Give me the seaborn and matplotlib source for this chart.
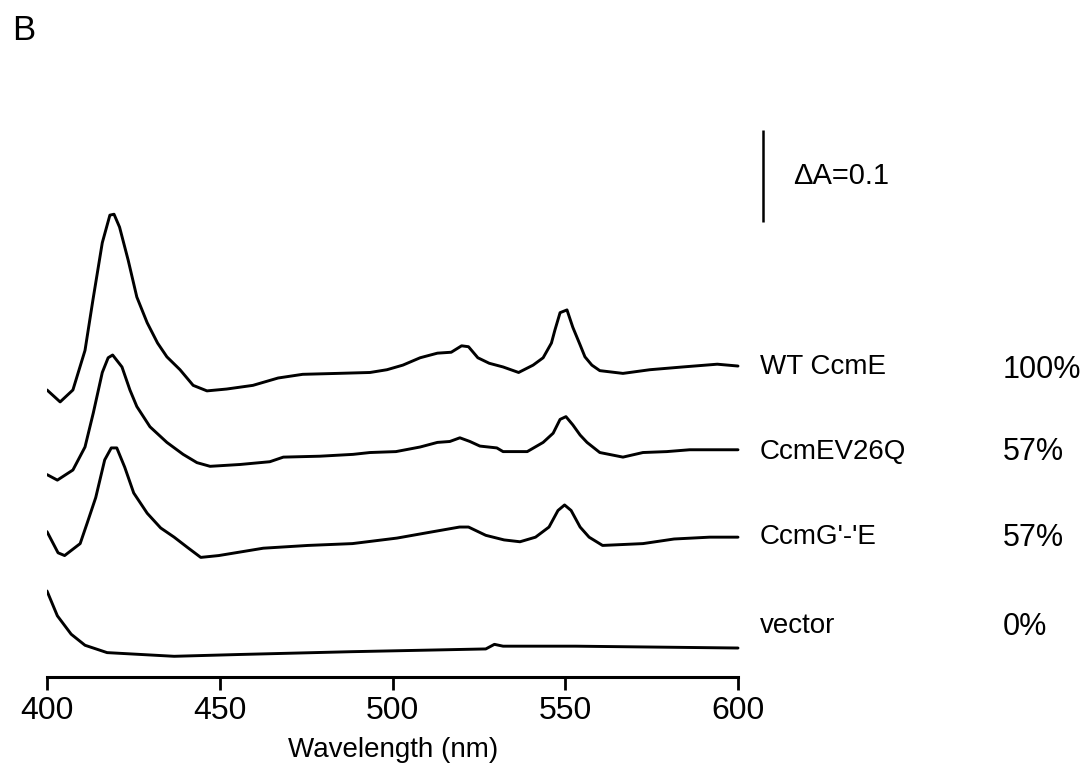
import matplotlib
matplotlib.use("Agg")
import matplotlib.pyplot as plt
import numpy as np
import pandas as pd
import seaborn as sns

# Difference spectra (absorbance relative to the 600 nm value of each trace)
wt_nm = [400, 403.8, 407.5, 411, 413.3, 416, 418.2, 419.4, 421, 423.5, 426, 429,
         432, 434.7, 438.5, 442.3, 446.3, 452, 459.6, 466.9, 474, 484, 493.5,
         498.4, 503, 508, 513, 517, 520, 522, 524.7, 528, 532, 536.5, 540.7,
         543.6, 546, 547, 548.5, 550.5, 552.2, 554.3, 555.7, 557.7, 560, 566.7,
         574.5, 584, 594, 600]
wt_abs = [-0.026, -0.039, -0.026, 0.017, 0.072, 0.134, 0.164, 0.165, 0.151,
          0.115, 0.075, 0.047, 0.025, 0.010, -0.004, -0.021, -0.027, -0.025,
          -0.021, -0.013, -0.009, -0.008, -0.007, -0.004, 0.001, 0.009, 0.014,
          0.015, 0.022, 0.021, 0.009, 0.003, -0.001, -0.007, 0.001, 0.009,
          0.025, 0.039, 0.058, 0.061, 0.042, 0.023, 0.010, 0.001, -0.005,
          -0.008, -0.004, -0.001, 0.002, 0.000]

v26q_nm = [400, 403, 407.5, 411, 413.4, 416, 417.7, 419, 421.7, 424, 426, 429.8,
           434.7, 439.4, 443.4, 447.2, 455.9, 464.5, 468.4, 479, 488.6, 493.5,
           501, 508, 513, 516.6, 519.5, 522.4, 525.3, 530.2, 532, 536.3, 539,
           543.6, 546.5, 548.5, 550.2, 552.2, 554.3, 556.3, 560, 566.7, 572.5,
           579.4, 586, 600]
v26q_abs = [-0.027, -0.033, -0.022, 0.003, 0.040, 0.084, 0.100, 0.103, 0.090,
            0.065, 0.047, 0.025, 0.008, -0.005, -0.014, -0.018, -0.016, -0.013,
            -0.008, -0.007, -0.005, -0.003, -0.002, 0.003, 0.008, 0.009, 0.013,
            0.009, 0.004, 0.002, -0.002, -0.002, -0.002, 0.008, 0.018, 0.033,
            0.036, 0.027, 0.016, 0.008, -0.003, -0.008, -0.003, -0.002, 0.000,
            0.000]

gfus_nm = [400, 403.2, 405.1, 409.6, 411.6, 414.1, 416.7, 418.6, 420.2, 422.5,
           425.1, 429, 432.9, 436.8, 440.6, 444.5, 449.7, 462.6, 475.5, 488.4,
           501.3, 510.3, 519.4, 522, 527, 532.3, 536.9, 541.4, 545.3, 547.9,
           549.8, 551.7, 554.3, 556.9, 560.8, 572.5, 581.5, 591.8, 600]
gfus_abs = [0.006, -0.017, -0.020, -0.007, 0.015, 0.043, 0.084, 0.097, 0.097,
            0.076, 0.048, 0.026, 0.010, 0.000, -0.011, -0.022, -0.020, -0.012,
            -0.009, -0.007, -0.001, 0.005, 0.011, 0.011, 0.002, -0.003, -0.005,
            0.000, 0.011, 0.029, 0.035, 0.029, 0.011, 0.000, -0.009, -0.007,
            -0.002, 0.000, 0.000]

vec_nm = [400, 403, 407, 411, 417.4, 436.8, 456, 488, 527, 529.5, 532, 553, 600]
vec_abs = [0.062, 0.035, 0.015, 0.003, -0.005, -0.009, -0.007, -0.004, -0.001,
           0.004, 0.002, 0.002, 0.000]

samples = ["WT CcmE", "CcmEV26Q", "CcmG'-'E", "vector"]
percent = ["100%", "57%", "57%", "0%"]
scale_dA = 0.1

# vertical stacking of the traces
offsets = [0.338, 0.247, 0.152, 0.0315]
label_y = [0.337, 0.245, 0.152, 0.055]
pct_y = [0.334, 0.245, 0.151, 0.054]

spectra = [(wt_nm, wt_abs), (v26q_nm, v26q_abs), (gfus_nm, gfus_abs), (vec_nm, vec_abs)]
frames = []
for name, (nm, a), off in zip(samples, spectra, offsets):
    frames.append(pd.DataFrame({"Wavelength": nm,
                                "A": np.asarray(a) + off,
                                "sample": name}))
df = pd.concat(frames, ignore_index=True)

sns.set_theme(style="white")
plt.rcParams["font.family"] = ["Liberation Sans", "DejaVu Sans"]
plt.rcParams["text.color"] = "black"
plt.rcParams["axes.labelcolor"] = "black"
plt.rcParams["xtick.color"] = "black"

W, H = 1092, 775
fig = plt.figure(figsize=(W / 100, H / 100), dpi=100)
ax = fig.add_axes([47 / W, 1 - 677 / H, (W - 47) / W, 677 / H])

sns.lineplot(data=df, x="Wavelength", y="A", hue="sample", units="sample",
             estimator=None, sort=False, palette=["black"] * 4, legend=False,
             linewidth=2.1, ax=ax)

ax.set_xlim(400, 400 + (W - 47) / 3.455)
ax.set_ylim(0, 677 / 920)

for s in ["top", "right", "left"]:
    ax.spines[s].set_visible(False)
ax.spines["bottom"].set_bounds(400, 600)
ax.spines["bottom"].set_linewidth(2.2)
ax.spines["bottom"].set_color("black")
ax.set_xticks([400, 450, 500, 550, 600])
ax.set_yticks([])
ax.tick_params(axis="x", direction="out", length=9.5, width=2.0, color="black",
               labelcolor="black", labelsize=23, pad=4, bottom=True)
ax.set_ylabel("")
ax.set_xlabel("Wavelength (nm)", fontsize=20, color="black")
ax.xaxis.set_label_coords((393 - 47) / (W - 47), -0.088)
ax.xaxis.label.set_va("top")

for name, ly in zip(samples, label_y):
    ax.text(606.4, ly, name, fontsize=20, va="center", ha="left", color="black")
for p, py in zip(percent, pct_y):
    ax.text(676.7, py, p, fontsize=22, va="center", ha="left", color="black")

# absorbance scale bar
bar_x, bar_y0 = 607.2, 0.495
ax.plot([bar_x, bar_x], [bar_y0, bar_y0 + scale_dA], color="black", lw=1.8,
        solid_capstyle="butt")
ax.text(615.9, bar_y0 + scale_dA / 2, "\u0394A=" + f"{scale_dA:g}", fontsize=21,
        va="center", ha="left", color="black")

fig.text(12 / W, 1 - 31 / H, "B", fontsize=25, va="center", ha="left", color="black")

fig.savefig("out.png", dpi=100)
